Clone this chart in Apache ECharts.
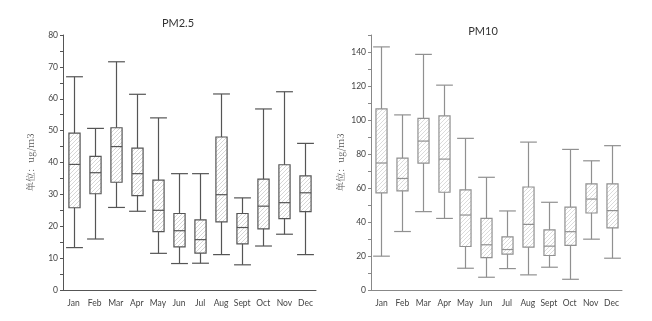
<!DOCTYPE html>
<html><head><meta charset="utf-8">
<script src="https://cdn.jsdelivr.net/npm/echarts@6/dist/echarts.min.js"></script>
<style>html,body{margin:0;padding:0;background:#fff}#c{width:652px;height:321px}</style>
</head><body><div id="c"></div>
<script>
var months = ['Jan','Feb','Mar','Apr','May','Jun','Jul','Aug','Sept','Oct','Nov','Dec'];
// [low, Q1, median, Q3, high]
var pm25 = [
  [13.3, 25.8, 39.4, 49.2, 66.9],
  [16.0, 30.2, 36.8, 41.9, 50.7],
  [25.9, 33.8, 45.0, 50.9, 71.6],
  [24.7, 29.6, 36.5, 44.5, 61.4],
  [11.5, 18.3, 25.0, 34.5, 54.0],
  [8.3, 13.5, 18.6, 24.0, 36.5],
  [8.4, 11.6, 15.8, 22.0, 36.5],
  [11.1, 21.4, 29.9, 48.0, 61.5],
  [7.9, 14.5, 19.6, 24.0, 28.9],
  [13.8, 19.2, 26.3, 34.8, 56.8],
  [17.5, 22.4, 27.4, 39.3, 62.2],
  [11.1, 24.6, 30.5, 35.8, 46.0]
];
var pm10 = [
  [19.9, 57.1, 74.7, 106.5, 143.0],
  [34.4, 58.3, 65.6, 77.6, 103.0],
  [46.1, 74.6, 87.6, 101.0, 138.6],
  [42.1, 57.5, 77.0, 102.4, 120.5],
  [12.8, 25.6, 44.1, 58.9, 89.2],
  [7.5, 19.1, 26.6, 42.1, 66.3],
  [12.6, 21.1, 23.8, 31.3, 46.5],
  [8.9, 25.2, 38.6, 60.6, 87.0],
  [13.4, 20.3, 25.8, 35.4, 51.6],
  [6.3, 26.2, 34.3, 48.8, 82.7],
  [29.9, 45.3, 53.5, 62.4, 76.0],
  [18.7, 36.6, 46.7, 62.4, 84.9]
];
var titles = ['PM2.5', 'PM10'];
var yName = '单位：ug/m3';

function hatch(color) {
  var c = document.createElement('canvas');
  c.width = 4; c.height = 4;
  var g = c.getContext('2d');
  g.strokeStyle = color; g.lineWidth = 0.7;
  g.beginPath();
  g.moveTo(-1, 5); g.lineTo(5, -1);
  g.moveTo(-1, 1); g.lineTo(1, -1);
  g.moveTo(3, 5); g.lineTo(5, 3);
  g.stroke();
  return c;
}

function makeRender(lineColor, fillColor) {
  var pat = {image: hatch(fillColor), repeat: 'repeat'};
  return function (params, api) {
    var x = api.value(0);
    var lo = api.coord([x, api.value(1)]);
    var q1 = api.coord([x, api.value(2)]);
    var md = api.coord([x, api.value(3)]);
    var q3 = api.coord([x, api.value(4)]);
    var hi = api.coord([x, api.value(5)]);
    var band = api.size([1, 0])[0];
    var bw = band * 0.53, cw = band * 0.8;
    var cx = Math.round(lo[0]) + 0.5;
    var st = {stroke: lineColor, lineWidth: 1.2, fill: null};
    return {type: 'group', children: [
      {type: 'line', shape: {x1: cx, y1: hi[1], x2: cx, y2: q3[1]}, style: st},
      {type: 'line', shape: {x1: cx, y1: q1[1], x2: cx, y2: lo[1]}, style: st},
      {type: 'line', shape: {x1: cx - cw / 2, y1: hi[1], x2: cx + cw / 2, y2: hi[1]}, style: st},
      {type: 'line', shape: {x1: cx - cw / 2, y1: lo[1], x2: cx + cw / 2, y2: lo[1]}, style: st},
      {type: 'rect', shape: {x: cx - bw / 2, y: q3[1], width: bw, height: q1[1] - q3[1]},
        style: {fill: pat, stroke: lineColor, lineWidth: 1.2}},
      {type: 'line', shape: {x1: cx - bw / 2, y1: md[1], x2: cx + bw / 2, y2: md[1]}, style: st}
    ]};
  };
}

function toData(arr) {
  return arr.map(function (d, i) { return [i].concat(d); });
}

var font = 'Lato, "Open Sans", sans-serif';
function xAx(idx, col) {
  return {type: 'category', gridIndex: idx, data: months,
    axisLine: {lineStyle: {color: col, width: 1}},
    axisTick: {alignWithLabel: true, length: 4, lineStyle: {color: col}},
    axisLabel: {color: '#444', fontSize: 8.5, fontFamily: font, margin: 9, interval: 0}};
}
function yAx(idx, col, max, interval) {
  return {type: 'value', gridIndex: idx, min: 0, max: max, interval: interval,
    name: yName, nameLocation: 'middle', nameGap: idx === 0 ? 28 : 26, nameRotate: 90,
    nameTextStyle: {fontFamily: '"Noto Serif CJK SC", "Noto Sans CJK SC", serif', fontSize: 9.5, color: '#555'},
    axisLine: {show: true, lineStyle: {color: col, width: 1}},
    axisTick: {show: true, length: 3, lineStyle: {color: col}},
    minorTick: {show: true, splitNumber: 2, length: 3, lineStyle: {color: col}},
    splitLine: {show: false},
    axisLabel: {color: '#444', fontSize: 8.5, fontFamily: font, margin: 5, showMaxLabel: max % interval === 0}};
}

var chart = echarts.init(document.getElementById('c'), null, {renderer: 'canvas'});
chart.setOption({
  animation: false,
  backgroundColor: '#fff',
  title: [
    {text: titles[0], left: 173, top: 13, textAlign: 'center',
      textStyle: {fontSize: 11, fontWeight: 'normal', color: '#333', fontFamily: font}},
    {text: titles[1], left: 478, top: 21, textAlign: 'center',
      textStyle: {fontSize: 11, fontWeight: 'normal', color: '#333', fontFamily: font}}
  ],
  grid: [
    {left: 63, top: 35, width: 253, height: 255},
    {left: 371, top: 35, width: 251, height: 255}
  ],
  xAxis: [xAx(0, '#555'), xAx(1, '#888')],
  yAxis: [yAx(0, '#555', 80, 10), yAx(1, '#888', 150, 20)],
  series: [
    {type: 'custom', xAxisIndex: 0, yAxisIndex: 0, renderItem: makeRender('#555555', '#c4c4c4'),
      encode: {x: 0, y: [1, 2, 3, 4, 5]}, data: toData(pm25)},
    {type: 'custom', xAxisIndex: 1, yAxisIndex: 1, renderItem: makeRender('#909090', '#cccccc'),
      encode: {x: 0, y: [1, 2, 3, 4, 5]}, data: toData(pm10)}
  ]
});
</script></body></html>
